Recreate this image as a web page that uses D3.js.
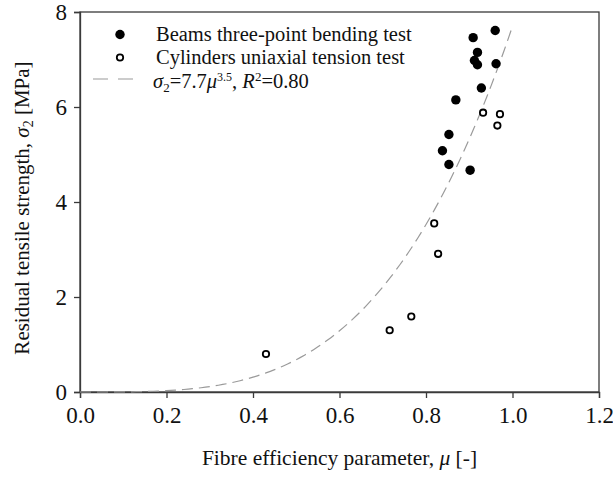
<!DOCTYPE html>
<html>
<head>
<meta charset="utf-8">
<script src="https://cdn.jsdelivr.net/npm/d3@7"></script>
<style>
  html, body { margin: 0; padding: 0; background: #fff; }
  svg { display: block; font-family: "Liberation Serif", "Times New Roman", serif; }
</style>
</head>
<body>
<svg id="chart" width="613" height="484"></svg>
<script>
// Beams, three-point bending test
const beamsMu    = [0.960, 0.909, 0.919, 0.912, 0.919, 0.962, 0.928, 0.869, 0.853, 0.838, 0.853, 0.902];
const beamsSigma = [7.61, 7.46, 7.15, 6.98, 6.89, 6.91, 6.40, 6.15, 5.42, 5.08, 4.79, 4.67];

// Cylinders, uniaxial tension test
const cylMu    = [0.932, 0.971, 0.965, 0.819, 0.828, 0.766, 0.716, 0.430];
const cylSigma = [5.88, 5.85, 5.61, 3.55, 2.91, 1.59, 1.30, 0.80];

// Fitted power law sigma2 = A * mu^B
const fitA = 7.7, fitB = 3.5, fitR2 = 0.80;
const fitRange = [0, 1.0];

const xTicks = [0.0, 0.2, 0.4, 0.6, 0.8, 1.0, 1.2];
const yTicks = [0, 2, 4, 6, 8];

const legendLabels = ["Beams three-point bending test", "Cylinders uniaxial tension test"];

const svg = d3.select("#chart");
const plotL = 80, plotR = 599, plotT = 12, plotB = 392;

const x = d3.scaleLinear().domain([0, 1.2]).range([plotL, plotR]);
const y = d3.scaleLinear().domain([0, 8]).range([plotB, plotT]);

const axisColor = "#3a3a3a";
const tickFont = 23, titleFont = 21, legendFont = 20.5;
const fitColor = "#9a9a9a";

// plot frame
svg.append("rect")
  .attr("x", plotL).attr("y", plotT)
  .attr("width", plotR - plotL).attr("height", plotB - plotT)
  .attr("fill", "none").attr("stroke", axisColor).attr("stroke-width", 1.3);

// axes
const xAxis = svg.append("g").attr("transform", `translate(0,${plotB})`)
  .call(d3.axisBottom(x).tickValues(xTicks).tickFormat(d3.format(".1f")).tickSize(6).tickPadding(9));
const yAxis = svg.append("g").attr("transform", `translate(${plotL},0)`)
  .call(d3.axisLeft(y).tickValues(yTicks).tickFormat(d3.format("d")).tickSize(6).tickPadding(7));

[xAxis, yAxis].forEach(g => {
  g.select(".domain").attr("stroke", axisColor).attr("stroke-width", 1.3);
  g.selectAll(".tick line").attr("stroke", axisColor).attr("stroke-width", 1.3);
  g.selectAll(".tick text")
    .attr("fill", "#111")
    .style("font-family", "'Liberation Serif', 'Times New Roman', serif")
    .style("font-size", tickFont + "px");
});

// fitted curve
const fitPts = d3.range(0, 101).map(i => fitRange[0] + (fitRange[1] - fitRange[0]) * i / 100)
  .map(m => [m, fitA * Math.pow(m, fitB)]);
const line = d3.line().x(d => x(d[0])).y(d => y(d[1]));
svg.append("path")
  .datum(fitPts)
  .attr("d", line)
  .attr("fill", "none")
  .attr("stroke", fitColor)
  .attr("stroke-width", 1.2)
  .attr("stroke-dasharray", "11,6");

// beams (filled)
svg.append("g").selectAll("circle")
  .data(beamsMu.map((m, i) => [m, beamsSigma[i]]))
  .join("circle")
  .attr("cx", d => x(d[0])).attr("cy", d => y(d[1]))
  .attr("r", 4.7).attr("fill", "#000");

// cylinders (open)
svg.append("g").selectAll("circle")
  .data(cylMu.map((m, i) => [m, cylSigma[i]]))
  .join("circle")
  .attr("cx", d => x(d[0])).attr("cy", d => y(d[1]))
  .attr("r", 3.2).attr("fill", "#fff").attr("stroke", "#000").attr("stroke-width", 1.8);

// legend: marker centre and text baseline per row
const lg = svg.append("g").style("font-size", legendFont + "px").attr("fill", "#111");
const markY = [34.5, 57.5, 79];
const baseY = [41, 64, 87.5];
lg.append("circle").attr("cx", 120).attr("cy", markY[0]).attr("r", 4.7).attr("fill", "#000");
lg.append("circle").attr("cx", 120).attr("cy", markY[1]).attr("r", 3.2)
  .attr("fill", "#fff").attr("stroke", "#000").attr("stroke-width", 1.8);
lg.append("line").attr("x1", 93).attr("x2", 134).attr("y1", markY[2]).attr("y2", markY[2])
  .attr("stroke", fitColor).attr("stroke-width", 1.2).attr("stroke-dasharray", "15,10");

lg.append("text").attr("x", 156).attr("y", baseY[0]).text(legendLabels[0]);
lg.append("text").attr("x", 156).attr("y", baseY[1]).text(legendLabels[1]);

const eq = lg.append("text").attr("x", 153).attr("y", baseY[2]);
eq.append("tspan").style("font-style", "italic").text("σ");
eq.append("tspan").attr("dy", 4).style("font-size", "13px").text("2");
eq.append("tspan").attr("dy", -4).text("=" + fitA);
eq.append("tspan").style("font-style", "italic").text("μ");
eq.append("tspan").attr("dy", -7).style("font-size", "12px").text(String(fitB));
eq.append("tspan").attr("dy", 7).text(", ");
eq.append("tspan").style("font-style", "italic").text("R");
eq.append("tspan").attr("dy", -7).style("font-size", "13px").text("2");
eq.append("tspan").attr("dy", 7).text("=" + fitR2.toFixed(2));

// axis titles
const xt = svg.append("text")
  .attr("x", (plotL + plotR) / 2).attr("y", 465)
  .attr("text-anchor", "middle").style("font-size", "21.5px").attr("fill", "#111");
xt.append("tspan").text("Fibre efficiency parameter, ");
xt.append("tspan").style("font-style", "italic").text("μ");
xt.append("tspan").text(" [-]");

const yt = svg.append("text")
  .attr("transform", `translate(29,208) rotate(-90)`)
  .attr("text-anchor", "middle").style("font-size", titleFont + "px").attr("fill", "#111");
yt.append("tspan").text("Residual tensile strength, ");
yt.append("tspan").style("font-style", "italic").text("σ");
yt.append("tspan").attr("dy", 4).style("font-size", "14px").text("2");
yt.append("tspan").attr("dy", -4).text(" [MPa]");
</script>
</body>
</html>
